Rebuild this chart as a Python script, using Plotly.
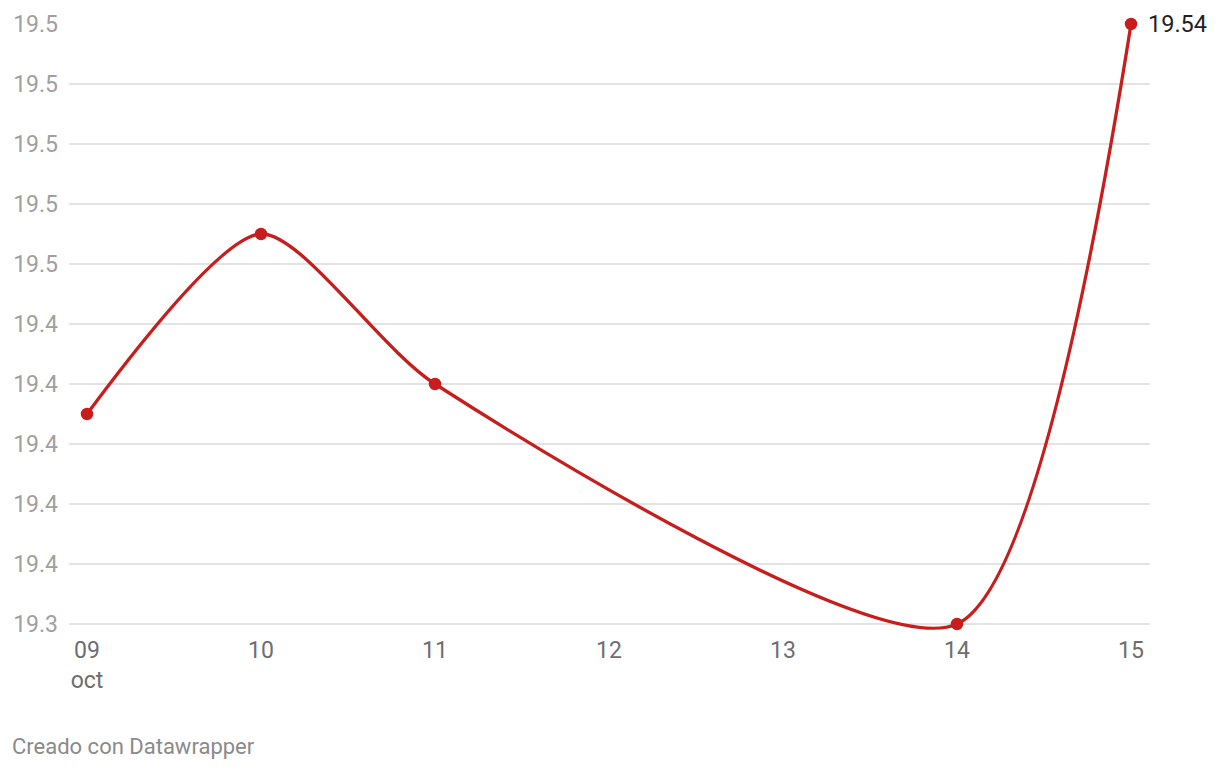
import plotly.graph_objects as go

dates = ["2023-10-09", "2023-10-10", "2023-10-11", "2023-10-14", "2023-10-15"]
values = [19.41, 19.47, 19.42, 19.34, 19.54]

x_tickvals = ["2023-10-09", "2023-10-10", "2023-10-11", "2023-10-12",
              "2023-10-13", "2023-10-14", "2023-10-15"]
x_ticktext = ["09<br>oct", "10", "11", "12", "13", "14", "15"]

y_tickvals = [19.34, 19.36, 19.38, 19.40, 19.42, 19.44, 19.46, 19.48, 19.50, 19.52, 19.54]
y_ticktext = ["19.3", "19.4", "19.4", "19.4", "19.4", "19.4", "19.5", "19.5", "19.5", "19.5", "19.5"]

RED = "#c71e1d"
OFF = 8  # page body margin
W, H = 1220 - OFF, 770 - OFF
PX_PER_UNIT = 3000
EXT_PX = 8  # extra room below lowest gridline (so the curve isn't clipped)
EXT = EXT_PX / PX_PER_UNIT
L, R, T = 69 - OFF, 70, 24 - OFF
B = 146 - EXT_PX

fig = go.Figure()
fig.add_trace(go.Scatter(
    x=dates, y=values, mode="lines+markers",
    line=dict(color=RED, width=3.3, shape="spline", smoothing=0.7),
    marker=dict(color=RED, size=12.5),
    hoverinfo="skip", showlegend=False, cliponaxis=False,
))

fig.add_annotation(x=dates[-1], y=values[-1], text=f"{values[-1]:.2f}",
                   xanchor="left", yanchor="middle", xshift=15, yshift=0,
                   showarrow=False, font=dict(size=23.5, color="#222222"))

plot_w = W - L - R
plot_h = H - T - B
fig.add_annotation(xref="paper", yref="paper", x=(10 - OFF - L) / plot_w,
                   y=-(746 - OFF - (H - B)) / plot_h, xanchor="left", yanchor="middle",
                   text="Creado con Datawrapper", showarrow=False,
                   font=dict(size=22, color="#8a8a8a"))

fig.update_layout(
    template="none",
    width=W, height=H,
    margin=dict(l=L, r=R, t=T, b=B, pad=0, autoexpand=False),
    plot_bgcolor="white", paper_bgcolor="white",
    font=dict(family="Roboto", size=23),
    xaxis=dict(
        type="date", automargin=False,
        range=["2023-10-08 21:31", "2023-10-15 02:37"],
        tickvals=x_tickvals, ticktext=x_ticktext,
        showgrid=False, zeroline=False, showline=False,
        ticks="", tickfont=dict(size=23, color="#6e6e6e"),
        ticklabelstandoff=2,
    ),
    yaxis=dict(
        automargin=False,
        range=[19.34 - EXT, 19.54],
        tickvals=y_tickvals, ticktext=y_ticktext,
        showgrid=True, gridcolor="#e3e3e3", gridwidth=1.5,
        zeroline=False, showline=False, ticks="",
        tickfont=dict(size=23, color="#a0a0a0"),
        ticklabelstandoff=10,
    ),
)

fig.write_html("out.html")
